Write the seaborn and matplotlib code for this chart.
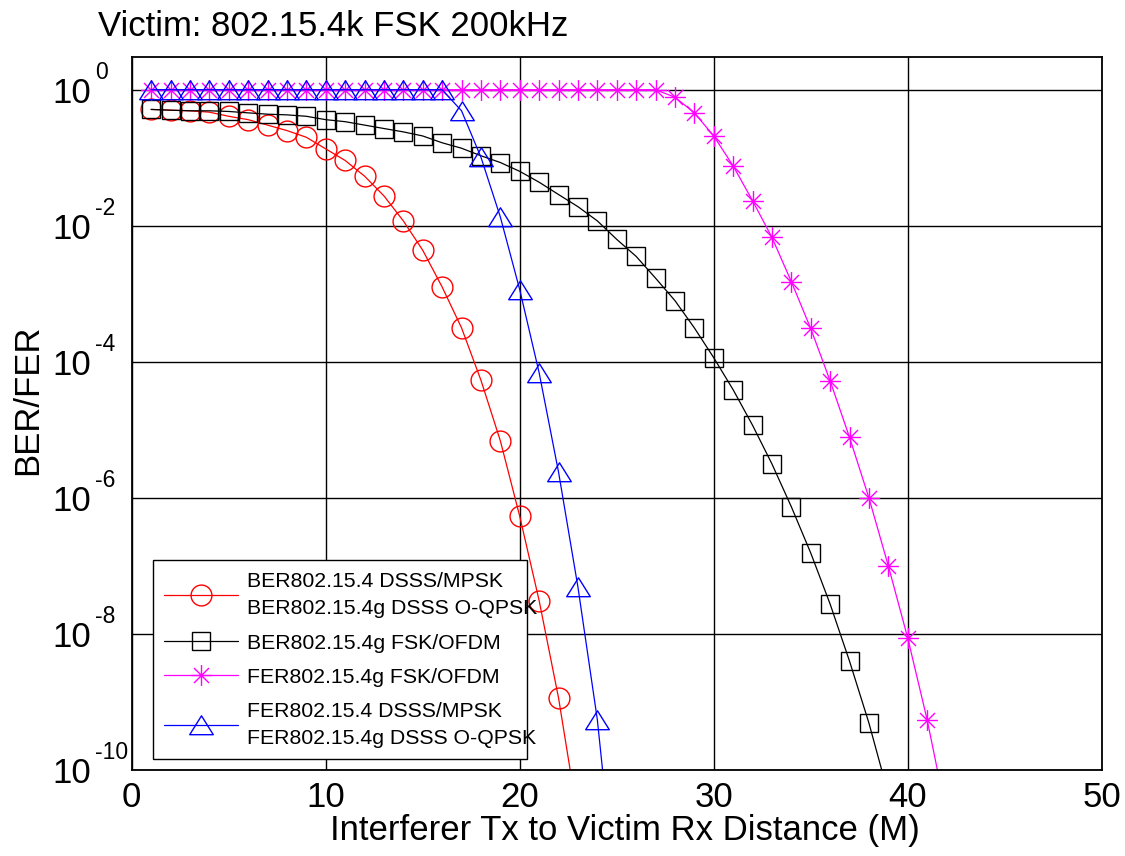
import numpy as np
import pandas as pd
import matplotlib
matplotlib.use("Agg")
import matplotlib.pyplot as plt
import matplotlib.transforms as mtransforms
import seaborn as sns
from matplotlib.path import Path
from matplotlib.lines import Line2D
from matplotlib.patches import Rectangle

# ---------------- data ----------------
title_text = "Victim: 802.15.4k FSK 200kHz"
x_label = "Interferer Tx to Victim Rx Distance (M)"
y_label = "BER/FER"
series_labels = [
    "BER802.15.4 DSSS/MPSK\nBER802.15.4g DSSS O-QPSK",
    "BER802.15.4g FSK/OFDM",
    "FER802.15.4g FSK/OFDM",
    "FER802.15.4 DSSS/MPSK\nFER802.15.4g DSSS O-QPSK",
]
x_ticks = [0, 10, 20, 30, 40, 50]
x_tick_labels = ["0", "10", "20", "30", "40", "50"]
y_tick_exponents = [0, -2, -4, -6, -8, -10]

# BER 802.15.4 DSSS/MPSK, 802.15.4g DSSS O-QPSK (red circles)
ber_dsss_x = [1, 2, 3, 4, 5, 6, 7, 8, 9, 10, 11, 12, 13, 14, 15, 16, 17, 18, 19, 20, 21, 22]
ber_dsss = [5.13e-1, 5.01e-1, 4.90e-1, 4.68e-1, 4.07e-1, 3.63e-1, 3.02e-1, 2.51e-1,
            2.00e-1, 1.35e-1, 9.12e-2, 5.37e-2, 2.75e-2, 1.18e-2, 4.37e-3, 1.26e-3,
            3.16e-4, 5.37e-5, 6.92e-6, 5.37e-7, 3.09e-8, 1.15e-9]
ber_dsss_end_x = 22.6   # curve reaches 1e-10 here

# BER 802.15.4g FSK/OFDM (black squares)
ber_fsk_x = [1, 2, 3, 4, 5, 6, 7, 8, 9, 10, 11, 12, 13, 14, 15, 16, 17, 18, 19, 20,
             21, 22, 23, 24, 25, 26, 27, 28, 29, 30, 31, 32, 33, 34, 35, 36, 37, 38]
ber_fsk = [5.13e-1, 5.00e-1, 4.90e-1, 4.90e-1, 4.79e-1, 4.57e-1, 4.37e-1, 4.27e-1,
           4.07e-1, 3.63e-1, 3.39e-1, 3.02e-1, 2.69e-1, 2.40e-1, 2.09e-1, 1.66e-1,
           1.38e-1, 1.07e-1, 8.51e-2, 6.31e-2, 4.37e-2, 2.88e-2, 1.91e-2, 1.18e-2,
           6.31e-3, 3.55e-3, 1.70e-3, 7.94e-4, 3.16e-4, 1.15e-4, 3.89e-5, 1.17e-5,
           3.16e-6, 7.41e-7, 1.55e-7, 2.75e-8, 3.98e-9, 4.90e-10]
ber_fsk_end_x = 38.66

# FER 802.15.4g FSK/OFDM (magenta asterisks)
fer_fsk_x = [1, 2, 3, 4, 5, 6, 7, 8, 9, 10, 11, 12, 13, 14, 15, 16, 17, 18, 19, 20,
             21, 22, 23, 24, 25, 26, 27, 28, 29, 30, 31, 32, 33, 34, 35, 36, 37, 38,
             39, 40, 41]
fer_fsk = [1.0, 1.0, 1.0, 1.0, 1.0, 1.0, 1.0, 1.0, 1.0, 1.0, 1.0, 1.0, 1.0, 1.0,
           1.0, 1.0, 1.0, 1.0, 1.0, 1.0, 1.0, 1.0, 1.0, 1.0, 1.0, 1.0, 1.0,
           7.76e-1, 4.57e-1, 2.09e-1, 7.59e-2, 2.34e-2, 6.76e-3, 1.51e-3, 3.09e-4,
           5.25e-5, 7.76e-6, 1.00e-6, 1.00e-7, 8.71e-9, 5.50e-10]
fer_fsk_end_x = 41.53

# FER 802.15.4 DSSS/MPSK, 802.15.4g DSSS O-QPSK (blue triangles)
fer_dsss_x = [1, 2, 3, 4, 5, 6, 7, 8, 9, 10, 11, 12, 13, 14, 15, 16, 17, 18, 19,
              20, 21, 22, 23, 24]
fer_dsss = [1.0, 1.0, 1.0, 1.0, 1.0, 1.0, 1.0, 1.0, 1.0, 1.0, 1.0, 1.0, 1.0, 1.0,
            1.0, 1.0, 4.90e-1, 1.02e-1, 1.35e-2, 1.15e-3, 6.92e-5, 2.40e-6,
            4.90e-8, 5.50e-10]
fer_dsss_end_x = 24.27

y_floor = 1e-10
y_top = 3.0

# ---------------- style ----------------
sns.set_theme(style="white")
plt.rcParams["font.family"] = ["Liberation Sans", "DejaVu Sans"]
plt.rcParams["text.color"] = "black"
plt.rcParams["axes.labelcolor"] = "black"
plt.rcParams["xtick.color"] = "black"
plt.rcParams["ytick.color"] = "black"

tri = Path([(-1, -0.78), (1, -0.78), (0, 0.82), (-1, -0.78)],
           [Path.MOVETO, Path.LINETO, Path.LINETO, Path.CLOSEPOLY])
d = 0.72
ast = Path([(0, -1), (0, 1), (-1, 0), (1, 0), (-d, -d), (d, d), (-d, d), (d, -d)],
           [Path.MOVETO, Path.LINETO] * 4)

series = [
    (ber_dsss_x, ber_dsss, ber_dsss_end_x, "#ff0000", "o", 15),
    (ber_fsk_x, ber_fsk, ber_fsk_end_x, "#000000", "s", 13),
    (fer_fsk_x, fer_fsk, fer_fsk_end_x, "#ff00ff", ast, 15),
    (fer_dsss_x, fer_dsss, fer_dsss_end_x, "#0000ff", tri, 17),
]

fig = plt.figure(figsize=(11.25, 8.56), dpi=100)
ax = fig.add_axes([0.1171, 0.1005, 0.8622, 0.8326])
ax.set_yscale("log")

handles = []
for (xs, ys, xend, col, mk, ms), lab in zip(series, series_labels):
    line_df = pd.DataFrame({"x": list(xs) + [xend], "y": list(ys) + [y_floor]})
    mark_df = pd.DataFrame({"x": xs, "y": ys})
    sns.lineplot(data=line_df, x="x", y="y", ax=ax, color=col, linewidth=0.9,
                 estimator=None, sort=False, legend=False)
    sns.lineplot(data=mark_df, x="x", y="y", ax=ax, color=col, linestyle="",
                 marker=mk, markersize=ms, markerfacecolor="none",
                 markeredgecolor=col, markeredgewidth=1.0,
                 estimator=None, sort=False, legend=False)
    handles.append(Line2D([], [], color=col, linewidth=0.9, marker=mk, markersize=ms,
                          markerfacecolor="none", markeredgecolor=col,
                          markeredgewidth=1.0, label=lab))

ax.set_xlim(0, 50)
ax.set_ylim(y_floor, y_top)
ax.set_xticks(x_ticks)
ax.set_xticklabels(x_tick_labels)
ax.set_yticks([10.0 ** e for e in y_tick_exponents])
ax.set_yticklabels(["10" for e in y_tick_exponents])
ax.yaxis.set_minor_locator(matplotlib.ticker.NullLocator())

ax.grid(True, color="black", linewidth=1.0)
ax.set_axisbelow(True)
for sp in ax.spines.values():
    sp.set_color("black")
    sp.set_linewidth(1.3)

ax.tick_params(axis="x", length=0, pad=8, labelsize=25, colors="black")
ax.tick_params(axis="y", length=0, pad=57, labelsize=25, colors="black")
for t in ax.get_yticklabels():
    t.set_horizontalalignment("left")

# exponents of the y tick labels, written as superscripts (MATLAB style)
exp_trans = mtransforms.offset_copy(ax.get_yaxis_transform(), fig=fig,
                                    x=0, y=7.6, units="points")
for e in y_tick_exponents:
    ax.text(-0.0375, 10.0 ** e, "%d" % e, transform=exp_trans, fontsize=16.5,
            ha="left", va="baseline", color="black", clip_on=False)

ax.set_xlabel(x_label, fontsize=25, color="black")
ax.set_ylabel(y_label, fontsize=25, color="black")
ax.xaxis.set_label_coords(0.508, -0.062)
ax.yaxis.set_label_coords(-0.09, 0.52)

fig.text(0.0868, 0.9575, title_text, fontsize=25, ha="left", va="baseline",
         color="black")

# legend box (MATLAB-like: fixed box, long labels may run past its edge)
leg_box = Rectangle((153.3 / 1125, 1 - 759 / 856), (526.7 - 153.3) / 1125,
                    (759 - 560) / 856, transform=fig.transFigure,
                    facecolor="white", edgecolor="black", linewidth=1.0,
                    zorder=4.5)
ax.add_artist(leg_box)
leg_box.set_clip_on(False)

leg = ax.legend(handles=handles, loc="lower left",
                bbox_to_anchor=(153.3 / 1125, 1 - 759 / 856),
                bbox_transform=fig.transFigure, borderaxespad=0,
                fontsize=15.3, frameon=False, handlelength=3.5,
                handletextpad=0.4, labelspacing=0.72, borderpad=0.5)
leg.set_zorder(5)
for t in leg.get_texts():
    t.set_linespacing(1.55)
    t.set_color("black")

fig.savefig("out.png", dpi=100)
